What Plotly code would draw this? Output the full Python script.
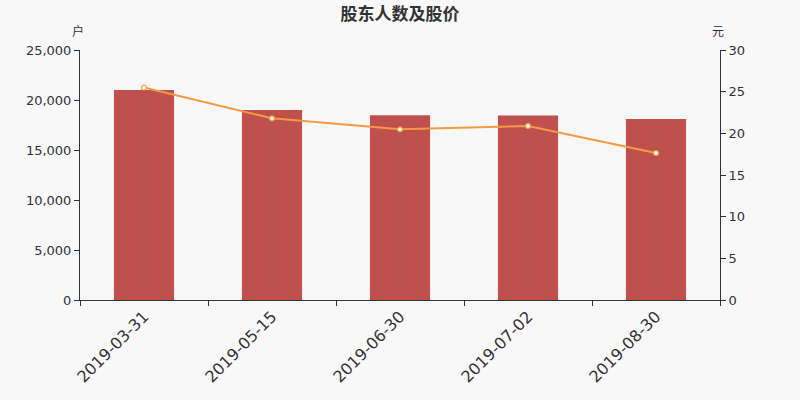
import plotly.graph_objects as go

# data
dates = ['2019-03-31', '2019-05-15', '2019-06-30', '2019-07-02', '2019-08-30']
holders = [21000, 19000, 18470, 18460, 18100]
price = [25.5, 21.8, 20.48, 20.88, 17.64]

fig = go.Figure()

# bars = number of shareholders (left axis)
fig.add_trace(go.Bar(x=dates, y=holders, width=0.47,
                     marker=dict(color='#c0504d', line=dict(width=0)),
                     name='股东人数', hoverinfo='x+y'))

# line = share price (right axis)
fig.add_trace(go.Scatter(x=dates, y=price, yaxis='y2', mode='lines+markers',
                         line=dict(color='#f59a44', width=2),
                         marker=dict(size=5, color='#ffffff', line=dict(color='#f59a44', width=1.2)),
                         name='股价'))

axis_font = dict(family='DejaVu Sans, Noto Sans CJK SC', size=13, color='#333333')

fig.update_layout(
    width=800, height=400,
    paper_bgcolor='#f8f8f8', plot_bgcolor='#f8f8f8',
    margin=dict(l=80, r=80, t=50, b=100, autoexpand=False),
    showlegend=False,
    bargap=0.53,
    title=dict(text='<b>股东人数及股价</b>', x=0.5, xanchor='center', y=0.965, yanchor='middle',
               font=dict(family='Noto Sans CJK SC', size=17, color='#333333')),
    xaxis=dict(type='category', tickangle=-45, tickson='boundaries', automargin=False,
               ticks='outside', ticklen=5, tickcolor='#333333',
               showline=True, linecolor='#333333', linewidth=1,
               showgrid=False, zeroline=False,
               tickfont=dict(family='DejaVu Sans', size=16, color='#333333')),
    yaxis=dict(range=[0, 25000], tick0=0, dtick=5000, tickformat=',d', automargin=False,
               ticks='outside', ticklen=5, tickcolor='#333333',
               showline=True, linecolor='#333333', linewidth=1,
               showgrid=False, zeroline=False, tickfont=axis_font),
    yaxis2=dict(range=[0, 30], tick0=0, dtick=5, overlaying='y', side='right', automargin=False,
                ticks='outside', ticklen=5, tickcolor='#333333',
                showline=True, linecolor='#333333', linewidth=1,
                showgrid=False, zeroline=False, tickfont=axis_font),
    annotations=[
        dict(text='户', xref='paper', yref='paper', x=-0.003, y=1.035, xanchor='center', yanchor='bottom',
             showarrow=False, font=dict(family='Noto Sans CJK SC', size=12, color='#333333')),
        dict(text='元', xref='paper', yref='paper', x=0.997, y=1.035, xanchor='center', yanchor='bottom',
             showarrow=False, font=dict(family='Noto Sans CJK SC', size=12, color='#333333')),
    ],
)

# drop the page's default body margin so the chart sits at the top-left corner
fig.write_html("out.html", config={'displayModeBar': False},
               post_script="document.body.style.margin='0';document.body.style.overflow='hidden';"
                           "document.body.style.background='#f8f8f8';")
